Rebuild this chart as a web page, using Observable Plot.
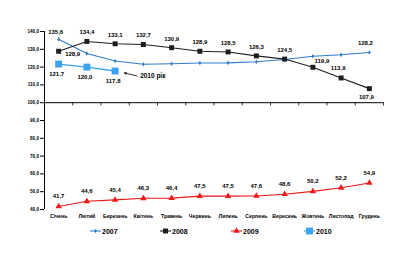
<!DOCTYPE html>
<html><head><meta charset="utf-8">
<script src="https://cdn.jsdelivr.net/npm/d3@7"></script>
<script src="https://cdn.jsdelivr.net/npm/@observablehq/plot@0.6"></script>
<style>
body{margin:0;background:#fff;font-family:"Liberation Sans",Arial,sans-serif;}
#wrap{position:relative;width:420px;height:266px;}
#legend{position:absolute;top:226px;left:0;width:420px;height:10px;}
.item{position:absolute;top:0;height:10px;display:flex;align-items:center;font:bold 7px "Liberation Sans",Arial,sans-serif;color:#000;}
.item svg{margin-right:1px;}
</style></head><body><div id="wrap"><div id="chart"></div><div id="legend"></div></div>
<script>
const months = ["Січень","Лютий","Березень","Квітень","Травень","Червень","Липень","Серпень","Вересень","Жовтень","Листопад","Грудень"];
const seriesNames = ["2007","2008","2009","2010"];
const v2007 = [135.6,127.6,123.4,121.6,121.9,122.3,122.4,123.0,124.3,126.1,126.9,128.2];
const v2008 = [128.9,134.4,133.1,132.7,130.9,128.9,128.5,126.3,124.5,119.9,113.9,107.9];
const v2009 = [41.7,44.6,45.4,46.3,46.4,47.5,47.5,47.6,48.6,50.2,52.2,54.9];
const v2010 = [121.7,120.0,117.8];
const yTicks = [40,50,60,70,80,90,100,110,120,130,140];
const annotationText = "2010 рік";

const colors = {"2007":"#2f7bd0","2008":"#1e1e1e","2009":"#f01818","2010":"#3aa3ef"};
const symbols = {"2007":"diamond","2008":"square","2009":"triangle","2010":"square"};
const radii = {"2007":1.4,"2008":2.8,"2009":2.4,"2010":3.9};

const rows = s => s.vals.map((v,i)=>({series:s.name,i,value:v,month:months[i]}));
const all = [
  {name:"2007",vals:v2007},{name:"2008",vals:v2008},{name:"2009",vals:v2009},{name:"2010",vals:v2010}
].map(s=>({name:s.name,rows:rows(s)}));
const byName = Object.fromEntries(all.map(s=>[s.name,s.rows]));
const fmt = v => v.toFixed(1).replace(".", ",");
const bounds = d3.range(months.length+1).map(i=>i-0.5);

const lblFont = {fontSize:6,fontWeight:"bold",fill:"#000",fontFamily:"Liberation Sans, Arial, sans-serif"};
function labels(data, dx, dy){ return Plot.text(data,{x:"i",y:"value",text:d=>fmt(d.value),dx,dy,...lblFont}); }

const b08 = byName["2008"];
const b07 = byName["2007"];
const marks = [
  Plot.ruleX([-0.5],{y1:40,y2:140,stroke:"#000",strokeWidth:1}),
  Plot.ruleY([100],{x1:-0.5,x2:11.5,stroke:"#000",strokeWidth:1}),
  Plot.ruleX(bounds,{y1:100,y2:98.2,stroke:"#000",strokeWidth:0.8}),
  Plot.axisY({ticks:yTicks,tickSize:4,tickPadding:1.5,tickFormat:fmt,label:null,fontSize:4.6,fontWeight:"bold"}),
  Plot.axisX({ticks:d3.range(months.length),tickSize:0,tickPadding:5,tickFormat:i=>months[i],label:null,fontSize:5.2,fontWeight:"bold"})
];
for (const s of all){
  marks.push(Plot.line(s.rows,{x:"i",y:"value",stroke:colors[s.name],strokeWidth:s.name==="2010"?1.3:1.1}));
  marks.push(Plot.dot(s.rows,{x:"i",y:"value",symbol:symbols[s.name],r:radii[s.name],fill:colors[s.name],stroke:"none"}));
}
// data labels
marks.push(labels(b07.filter(d=>d.i===0),-3,-7));
marks.push(labels(b07.filter(d=>d.i===11),-4,-9));
marks.push(labels(b08.filter(d=>d.i===0),14,3));
marks.push(labels(b08.filter(d=>d.i>=1&&d.i<=8),0,-9));
marks.push(labels(b08.filter(d=>d.i===9),9,-6));
marks.push(labels(b08.filter(d=>d.i===10),-3,-10));
marks.push(labels(b08.filter(d=>d.i===11),-3,8));
marks.push(labels(byName["2009"],0,-10));
marks.push(labels(byName["2010"],-2,10));
// annotation
const last10 = byName["2010"].slice(-1);
marks.push(Plot.arrow(last10,{x1:d=>d.i+0.78,y1:d=>d.value-2.8,x2:d=>d.i+0.33,y2:d=>d.value-1.1,stroke:"#000",strokeWidth:0.8,headLength:4}));
marks.push(Plot.text(last10,{x:"i",y:"value",text:()=>annotationText,dx:25,dy:5,textAnchor:"start",fontSize:6.5,fontWeight:"bold",fill:"#000"}));

const chart = Plot.plot({
  width:420,height:226,
  marginLeft:44,marginRight:37,marginTop:31,marginBottom:17,
  x:{domain:[-0.5,11.5],axis:null},
  y:{domain:[40,140],axis:null},
  style:{fontFamily:"Liberation Sans, Arial, sans-serif",color:"#000",background:"#fff"},
  marks
});
document.getElementById("chart").appendChild(chart);

// legend
const legend = document.getElementById("legend");
const lefts = [90,160,231,304];
seriesNames.forEach((n,k)=>{
  const div = document.createElement("div");
  div.className="item"; div.style.left=lefts[k]+"px";
  const sym = d3.symbol(d3["symbol"+(symbols[n]==="diamond"?"Diamond":symbols[n]==="square"?"Square":"Triangle")], Math.PI*radii[n]*radii[n])();
  div.innerHTML = `<svg width="11" height="10"><line x1="0" y1="5" x2="11" y2="5" stroke="${colors[n]}" stroke-width="1.1"/><path d="${sym}" transform="translate(5.5,5)" fill="${colors[n]}"/></svg><span>${n}</span>`;
  legend.appendChild(div);
});
</script></body></html>
